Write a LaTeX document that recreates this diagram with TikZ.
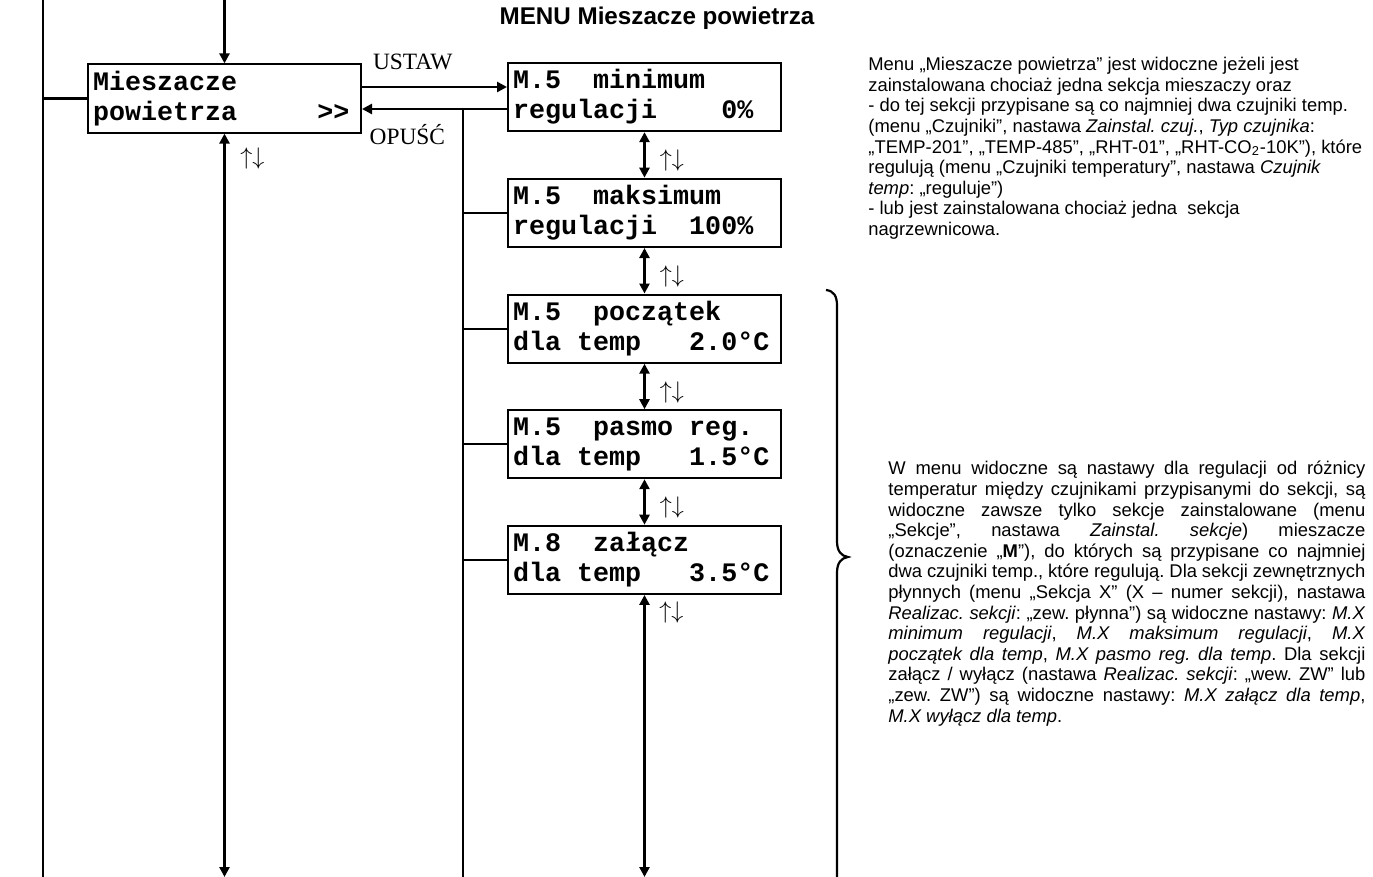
\documentclass[tikz,border=0pt]{standalone}
\usepackage{fontspec}
\setmainfont{Liberation Sans}
\setmonofont{Liberation Mono}
\newfontfamily\serifface{Liberation Serif}
\usetikzlibrary{arrows.meta,positioning}
\frenchspacing
% blank cells of the display, one character wide each
\newcommand\lcdsp[1]{\hspace*{\dimexpr\fontcharwd\font`0*#1\relax}}
\tikzset{
  lcd/.style={draw=black, line width=1pt, minimum height=34pt, text width=131.5pt, inner xsep=2.5pt, align=left, font=\fontsize{13.35}{15}\selectfont\ttfamily\bfseries},
  link/.style={draw=black, line width=1.1pt},
  flow/.style={link, line width=1.3pt, -{Triangle[length=5pt,width=5pt]}},
  dbl/.style={link, line width=1.3pt, {Triangle[length=5pt,width=5pt]}-{Triangle[length=5pt,width=5pt]}},
  ud/.style={font=\fontsize{12}{12}\selectfont, inner sep=0pt},
  cmd/.style={font=\fontsize{11.7}{14}\selectfont\serifface, inner sep=0pt},
  note/.style={font=\fontsize{9.2}{10.3}\selectfont, inner sep=0pt},
  heading/.style={font=\fontsize{12.1}{14}\selectfont\bfseries}
}

\begin{document}
\begin{tikzpicture}[x=0.5pt, y=-0.5pt, node distance=22.75pt]
  \useasboundingbox (0,0) rectangle (1373,877);
  \node[heading] (head) at (657,18) {MENU Mieszacze powietrza};

  % menu entry and its settings
  \node[lcd] (mix) at (224.5,98.5) {Mieszacze\\powietrza\lcdsp{5}>\kern0pt>};
  \node[lcd] (mmin) at (644.5,97) {M.5\lcdsp{2}minimum\\regulacji\lcdsp{4}0\%};
  \node[lcd, below=of mmin] (mmax) {M.5\lcdsp{2}maksimum\\regulacji\lcdsp{2}100\%};
  \node[lcd, below=of mmax] (mbeg) {M.5\lcdsp{2}początek\\dla\lcdsp{1}temp\lcdsp{3}2.0°C};
  \node[lcd, below=of mbeg] (mband) {M.5\lcdsp{2}pasmo\lcdsp{1}reg.\\dla\lcdsp{1}temp\lcdsp{3}1.5°C};
  \node[lcd, below=of mband] (mon) {M.8\lcdsp{2}załącz\\dla\lcdsp{1}temp\lcdsp{3}3.5°C};

  \coordinate (ltop) at (43,0);
  \coordinate (lbot) at (43,877);
  \coordinate (in) at (224.5,0);
  \coordinate (busbot) at (463,877);
  \coordinate (sbot) at (mon |- busbot);

  \draw[link] (ltop) -- (lbot);
  \draw[link] (mix.west) -- (mix.west -| ltop);
  \draw[flow] (in) -- (mix);
  \draw[dbl] (mix) -- (mix |- lbot);
  \node[ud, anchor=west] (ud0) at (240,159) {$\uparrow\downarrow$};

  \draw[flow] ([yshift=5pt]mmin.west -| mix.east) -- node[cmd, pos=0.35, above=8pt] (set) {USTAW} ([yshift=5pt]mmin.west);
  \draw[flow] ([yshift=-6pt]mmin.west) -- node[cmd, pos=0.687, below=7pt] (back) {OPUŚĆ} ([yshift=-6pt]mmin.west -| mix.east);
  \coordinate (bustop) at ([yshift=-6pt]mmin.west -| busbot);
  \draw[link] (bustop) -- (busbot);
  \foreach \b in {mmax,mbeg,mband,mon}
    \draw[link] (\b.west) -- (\b.west -| busbot);

  \foreach \a/\b in {mmin/mmax,mmax/mbeg,mbeg/mband,mband/mon}
    \draw[dbl] (\a) -- node[ud, right=7pt, yshift=-3pt] {$\uparrow\downarrow$} (\b);
  \draw[dbl] (mon) -- (sbot);
  \node[ud, anchor=west] (ud5) at (659,612) {$\uparrow\downarrow$};

  % brace over the temperature settings
  \draw[line width=1.1pt] (826,290) .. controls (834,291) and (837,296) .. (837,306) -- (837,541)
    .. controls (837,551) and (841,556) .. (848,557) .. controls (841,558) and (837,563) .. (837,573) -- (837,880);

  \node[note, anchor=north west, align=left] (cond) at (868,57) {Menu „Mieszacze powietrza” jest widoczne jeżeli jest\\
    zainstalowana chociaż jedna sekcja mieszaczy oraz\\
    - do tej sekcji przypisane są co najmniej dwa czujniki temp.\\
    (menu „Czujniki”, nastawa \textit{Zainstal. czuj.}, \textit{Typ czujnika}:\\
    „TEMP-201”, „TEMP-485”, „RHT-01”, „RHT-CO\textsubscript{2}-10K”), które\\
    regulują (menu „Czujniki temperatury”, nastawa \textit{Czujnik}\\
    \textit{temp}: „reguluje”)\\
    - lub jest zainstalowana chociaż jedna~ sekcja\\
    nagrzewnicowa.};

  \node[note, anchor=base west, text width=238.5pt, align=justify] (descr) at (888,475) {\tolerance=10000\hyphenpenalty=10000
    W menu widoczne są nastawy dla regulacji od różnicy\linebreak
    temperatur między czujnikami przypisanymi do sekcji, są\linebreak
    widoczne zawsze tylko sekcje zainstalowane (menu\linebreak
    „Sekcje”, nastawa \textit{Zainstal. sekcje}) mieszacze\linebreak
    (oznaczenie „\textbf{M}”), do których są przypisane co najmniej\linebreak
    dwa czujniki temp., które regulują. Dla sekcji zewnętrznych\linebreak
    płynnych (menu „Sekcja X” (X – numer sekcji), nastawa\linebreak
    \textit{Realizac. sekcji}: „zew. płynna”) są widoczne nastawy: \textit{M.X}\linebreak
    \textit{minimum regulacji}, \textit{M.X maksimum regulacji}, \textit{M.X}\linebreak
    \textit{początek dla temp}, \textit{M.X pasmo reg. dla temp}. Dla sekcji\linebreak
    załącz / wyłącz (nastawa \textit{Realizac. sekcji}: „wew. ZW” lub\linebreak
    „zew. ZW”) są widoczne nastawy: \textit{M.X załącz dla temp},\linebreak
    \textit{M.X wyłącz dla temp}.};
\end{tikzpicture}
\end{document}
